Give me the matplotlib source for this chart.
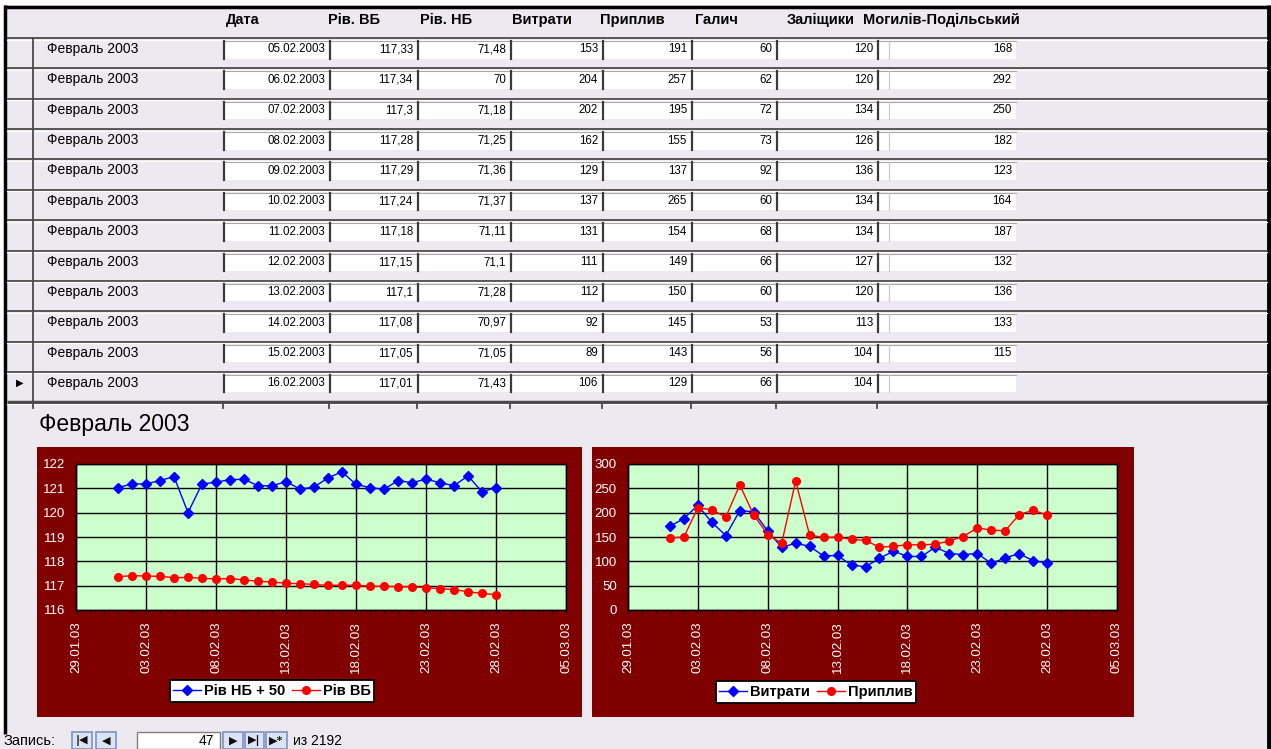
import pandas as pd
import matplotlib
matplotlib.use("Agg")
import matplotlib.pyplot as plt
import matplotlib.dates as mdates
from matplotlib import font_manager
from matplotlib.patches import Rectangle

plt.rcParams['font.family'] = ['Liberation Sans', 'DejaVu Sans']

W, H = 1271, 749
GRAY = '#ECEAF0'
DARKRED = '#800000'

# daily data, February 2003
days = pd.date_range('2003-02-01', '2003-02-28', freq='D')
riv_vb = [117.37, 117.41, 117.40, 117.38, 117.33, 117.34, 117.3, 117.28, 117.29, 117.24,
          117.18, 117.15, 117.1, 117.08, 117.05, 117.01, 117.02, 117.02, 116.98, 116.97,
          116.96, 116.95, 116.92, 116.88, 116.84, 116.75, 116.68, 116.63]
riv_nb = [71.03, 71.18, 71.18, 71.32, 71.48, 70, 71.18, 71.25, 71.36, 71.37,
          71.11, 71.1, 71.28, 70.97, 71.05, 71.43, 71.68, 71.16, 71.03, 70.96,
          71.32, 71.23, 71.38, 71.23, 71.11, 71.51, 70.86, 71.03]
vytraty = [172, 188, 215, 180, 153, 204, 202, 162, 129, 137, 131, 111, 112, 92,
           89, 106, 121, 110, 110, 129, 116, 114, 116, 96, 107, 116, 101, 97]
pryplyv = [148, 150, 210, 206, 191, 257, 195, 155, 137, 265, 154, 149, 150, 145,
           143, 129, 131, 134, 134, 135, 142, 151, 169, 164, 163, 196, 205, 195]

# rows visible in the form: 05.02 .. 16.02
first_row = 4
galych = [60, 62, 72, 73, 92, 60, 68, 66, 60, 53, 56, 66]
zalishchyky = [120, 120, 134, 126, 136, 134, 134, 127, 120, 113, 104, 104]
mohyliv = [168, 292, 250, 182, 123, 164, 187, 132, 136, 133, 115, None]

row_label = 'Февраль 2003'
headers = ['Дата', 'Рів. ВБ', 'Рів. НБ', 'Витрати', 'Приплив', 'Галич',
           'Заліщики', 'Могилів-Подільський']
record_no, record_total = 47, 2192

# narrow font for the form fields if there is one
try:
    font_manager.findfont('Liberation Sans Narrow', fallback_to_default=False)
    NARROW, VAL_SIZE, HDR_SIZE = 'Liberation Sans Narrow', 10, 11
except ValueError:
    NARROW, VAL_SIZE, HDR_SIZE = 'Liberation Sans', 8.3, 10.5


def num(v):
    if v is None:
        return ''
    return f'{v:g}'.replace('.', ',')


def fig_rect(x0, y0, x1, y1):
    return [x0 / W, 1 - y1 / H, (x1 - x0) / W, (y1 - y0) / H]


fig = plt.figure(figsize=(W / 100, H / 100), dpi=100)
fig.patch.set_facecolor('white')
bg = fig.add_axes([0, 0, 1, 1])
bg.set_xlim(0, W)
bg.set_ylim(H, 0)
bg.axis('off')

# form background and border
bg.add_patch(Rectangle((4, 5), W - 4, H - 5, fc=GRAY, ec='none'))
bg.add_patch(Rectangle((0, 732), W, H - 732, fc=GRAY, ec='none'))
bg.plot([4, W], [6.5, 6.5], color='black', lw=2.5, solid_capstyle='butt')
bg.plot([5, 5], [5, 734], color='black', lw=2.5, solid_capstyle='butt')
bg.plot([1269, 1269], [5, H], color='black', lw=3.5, solid_capstyle='butt')

# header
hdr_x = [226, 328, 420, 512, 600, 695, 787, 863]
for x, t in zip(hdr_x, headers):
    bg.text(x, 20, t, ha='left', va='center', fontsize=HDR_SIZE,
            fontweight='bold', family=[NARROW, 'DejaVu Sans'])

# rows
col_left = [223, 329, 417, 510, 602, 691, 776, 877]
col_right = col_left[1:] + [1016]
pitch = 30.36
n_rows = len(galych)
for k in range(n_rows + 1):
    y = 38 + pitch * k
    lw = 1.3 if k < n_rows else 2.5
    bg.plot([7, 1267], [y, y], color='#4A4A4A', lw=lw, solid_capstyle='butt')
    bg.plot([7, 1267], [y + 1.5, y + 1.5], color='white', lw=0.8)
bg.plot([33, 33], [38, 38 + pitch * n_rows + 6], color='#4A4A4A', lw=1.3)
for l in col_left:
    bg.plot([l, l], [38 + pitch * n_rows, 38 + pitch * n_rows + 6], color='#4A4A4A', lw=1.3)

for k in range(n_rows):
    top = 38 + pitch * k
    i = first_row + k
    vals = [days[i].strftime('%d.%m.%Y'), num(riv_vb[i]), num(riv_nb[i]),
            num(vytraty[i]), num(pryplyv[i]), num(galych[k]),
            num(zalishchyky[k]), num(mohyliv[k])]
    bg.text(47, top + 11, row_label, ha='left', va='center', fontsize=10)
    for l, r, v in zip(col_left, col_right, vals):
        bg.add_patch(Rectangle((l, top + 3), r - l, 17.5, fc='white', ec='none'))
        bg.plot([l, r], [top + 3, top + 3], color='#A8A8A8', lw=0.8)
        bg.plot([l + 0.5, l + 0.5], [top + 3, top + 20.5], color='#3A3A3A', lw=1.6)
        bg.text(r - 4, top + 11.5, v, ha='right', va='center', fontsize=VAL_SIZE,
                family=[NARROW, 'DejaVu Sans'])
    bg.plot([889, 889], [top + 3, top + 20.5], color='#C8C8C8', lw=0.8)
sel_top = 38 + pitch * (n_rows - 1)
bg.text(20, sel_top + 11, '▶', ha='center', va='center', fontsize=7,
        family='DejaVu Sans', color='black')

# title of subform
bg.text(39, 424, row_label, ha='left', va='center', fontsize=16.5)

# chart panels
bg.add_patch(Rectangle((37, 447), 582 - 37, 717 - 447, fc=DARKRED, ec='none'))
bg.add_patch(Rectangle((592, 447), 1134 - 592, 717 - 447, fc=DARKRED, ec='none'))

x_start, x_end = pd.Timestamp('2003-01-29'), pd.Timestamp('2003-03-05')
major = pd.date_range(x_start, x_end, freq='5D')


def chart(rect, series, ylim, yticks, legend_xy):
    ax = fig.add_axes(fig_rect(*rect))
    ax.set_facecolor('#CCFFCC')
    for y, color, marker, ms, label in series:
        ax.plot(days, y, color=color, lw=1, marker=marker, ms=ms,
                markeredgecolor=color, label=label, zorder=3)
    ax.set_xlim(x_start, x_end)
    ax.set_ylim(*ylim)
    ax.set_yticks(yticks)
    ax.set_xticks(major)
    ax.xaxis.set_minor_locator(mdates.DayLocator())
    ax.xaxis.set_major_formatter(mdates.DateFormatter('%d.%m.%y'))
    ax.grid(True, which='major', color='black', lw=1)
    ax.tick_params(axis='x', which='both', direction='out', length=3,
                   color='black', labelcolor='white', labelsize=9.5,
                   rotation=90, pad=5)
    ax.tick_params(axis='y', length=0, labelcolor='white', labelsize=9.5, pad=8)
    for s in ax.spines.values():
        s.set_color('black')
        s.set_linewidth(1)
    cx, cy = legend_xy
    leg = ax.legend(loc='center', bbox_to_anchor=(cx / W, 1 - cy / H),
                    bbox_transform=fig.transFigure, ncol=2, fancybox=False,
                    edgecolor='black', framealpha=1, facecolor='white',
                    prop={'weight': 'bold', 'size': 10.5}, handlelength=1.9,
                    handletextpad=0.2, columnspacing=0.5, borderpad=0.25,
                    borderaxespad=0)
    leg.get_frame().set_linewidth(1.3)
    return ax


nb_plus = [v + 50 for v in riv_nb]
chart((76, 464, 566, 610),
      [(nb_plus, '#0000FF', 'D', 5, 'Рів НБ + 50'),
       (riv_vb, '#FF0000', 'o', 5.5, 'Рів ВБ')],
      (116, 122), range(116, 123), (272, 691))
chart((628, 464, 1117, 610),
      [(vytraty, '#0000FF', 'D', 5, 'Витрати'),
       (pryplyv, '#FF0000', 'o', 5.5, 'Приплив')],
      (0, 300), range(0, 301, 50), (816, 692))

# record navigation bar
bg.text(3, 741, 'Запись:', ha='left', va='center', fontsize=10.5)
buttons = [(72, 92, '|◀'), (96, 116, '◀'), (223, 243, '▶'), (245, 264, '▶|'), (266, 287, '▶*')]
for l, r, t in buttons:
    bg.add_patch(Rectangle((l, 732), r - l, 17, fc='#DCE3F3', ec='#7F93C0', lw=1.2))
    bg.text((l + r) / 2, 741, t, ha='center', va='center', fontsize=8,
            fontweight='bold', family='DejaVu Sans', color='#101010')
bg.add_patch(Rectangle((137, 732), 83, 17, fc='white', ec='#7F7F7F', lw=1))
bg.text(214, 741, str(record_no), ha='right', va='center', fontsize=10)
bg.text(293, 741, f'из {record_total}', ha='left', va='center', fontsize=10)

fig.savefig('out.png', dpi=100)
